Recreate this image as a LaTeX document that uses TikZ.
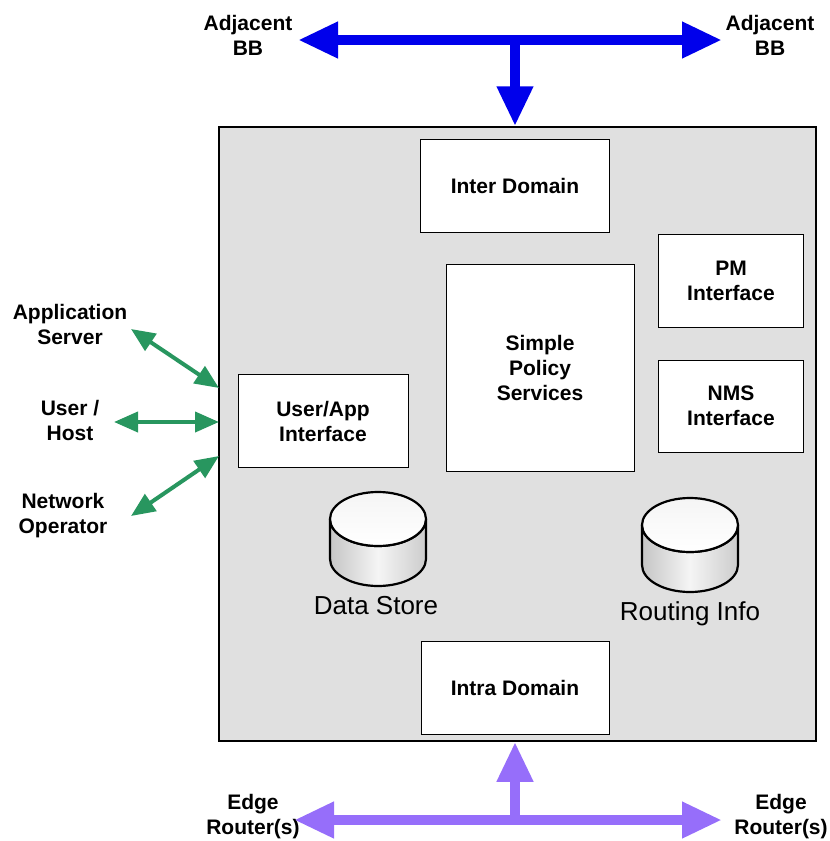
\documentclass[tikz,border=0pt]{standalone}
\usepackage{fontspec}
\setmainfont{Liberation Sans}
\usetikzlibrary{arrows.meta}
\definecolor{bbblue}{RGB}{0,0,235}
\definecolor{edgepurple}{RGB}{150,110,250}
\definecolor{usergreen}{RGB}{40,150,95}
\definecolor{boxgray}{RGB}{224,224,224}
\begin{document}
\begin{tikzpicture}[
        x=1pt, y=-1pt,
        lbl/.style={font=\bfseries\fontsize{21}{25}\selectfont, align=center},
        func/.style={draw, fill=white, line width=1pt, align=center,
                font=\bfseries\fontsize{21}{25}\selectfont},
        storebody/.style={draw, line width=2.2pt, left color=gray!45, right color=gray!40, middle color=gray!8},
        storetop/.style={draw, line width=2.2pt, top color=gray!8, bottom color=white},
        storelbl/.style={font=\fontsize{26}{30}\selectfont},
        bigarrow/.style={line width=10pt, -{Triangle[length=40pt, width=34pt]}},
        twoway/.style={line width=4pt, {Triangle[length=24pt, width=20pt]}-{Triangle[length=24pt, width=20pt]}}
    ]
    \useasboundingbox (0,0) rectangle (830,841);

    \node[draw, fill=boxgray, line width=1.5pt, minimum width=597, minimum height=614] (main) at (517.5,434) {};

    \node[func, minimum width=189, minimum height=93] (inter) at (515,186) {Inter Domain};
    \node[func, minimum width=145, minimum height=93] (pm) at (731,281) {PM\\Interface};
    \node[func, minimum width=188, minimum height=207] (policy) at (540,368) {Simple\\Policy\\Services};
    \node[func, minimum width=145, minimum height=92] (nms) at (731,406) {NMS\\Interface};
    \node[func, minimum width=170, minimum height=93] (userapp) at (323,421) {User/App\\Interface};
    \node[func, minimum width=188, minimum height=93] (intra) at (515,688) {Intra Domain};

    \foreach \cx/\cy/\nm in {378/539/datastore, 690/545/routing}{
        \begin{scope}[shift={(\cx,\cy)}]
            \coordinate (\nm) at (0,0);
            \draw[storebody] (-48,-20) -- (-48,20) arc[start angle=180, end angle=0, x radius=48, y radius=27]
                -- (48,-20) arc[start angle=0, end angle=180, x radius=48, y radius=27] -- cycle;
            \draw[storetop] (0,-20) ellipse[x radius=48, y radius=27];
        \end{scope}
    }
    \node[storelbl] (datalbl) at (376,606) {Data Store};
    \node[storelbl] (routinglbl) at (690,614) {Routing Info};

    \node[lbl] (adjL) at (248,35) {Adjacent\\BB};
    \node[lbl] (adjR) at (770,35) {Adjacent\\BB};
    \node[lbl] (edgeL) at (253,817) {Edge\\Router(s)};
    \node[lbl] (edgeR) at (781,817) {Edge\\Router(s)};
    \node[lbl] (appsrv) at (70,324) {Application\\Server};
    \node[lbl] (userhost) at (70,420) {User /\\Host};
    \node[lbl] (netop) at (63,516) {Network\\Operator};

    \coordinate (bbL) at (298,40);
    \coordinate (bbR) at (722,40);
    \coordinate (bbM) at (515,40);
    \coordinate (erL) at (294,820);
    \coordinate (erR) at (722,820);
    \coordinate (erM) at (515,820);
    \coordinate (appA) at (131,329);
    \coordinate (appB) at (219,388);
    \coordinate (hostA) at (114,422);
    \coordinate (hostB) at (219,422);
    \coordinate (opA) at (131,516);
    \coordinate (opB) at (219,456);

    \draw[bigarrow, bbblue, {Triangle[length=40pt, width=34pt]}-{Triangle[length=40pt, width=34pt]}] (bbL) -- (bbR);
    \draw[bigarrow, bbblue] (bbM) -- (bbM |- main.north);
    \draw[bigarrow, edgepurple, {Triangle[length=40pt, width=34pt]}-{Triangle[length=40pt, width=34pt]}] (erL) -- (erR);
    \draw[bigarrow, edgepurple] (erM) -- (erM |- main.south);

    \draw[twoway, usergreen] (appA) -- (appB);
    \draw[twoway, usergreen] (hostA) -- (hostB);
    \draw[twoway, usergreen] (opA) -- (opB);
\end{tikzpicture}
\end{document}
